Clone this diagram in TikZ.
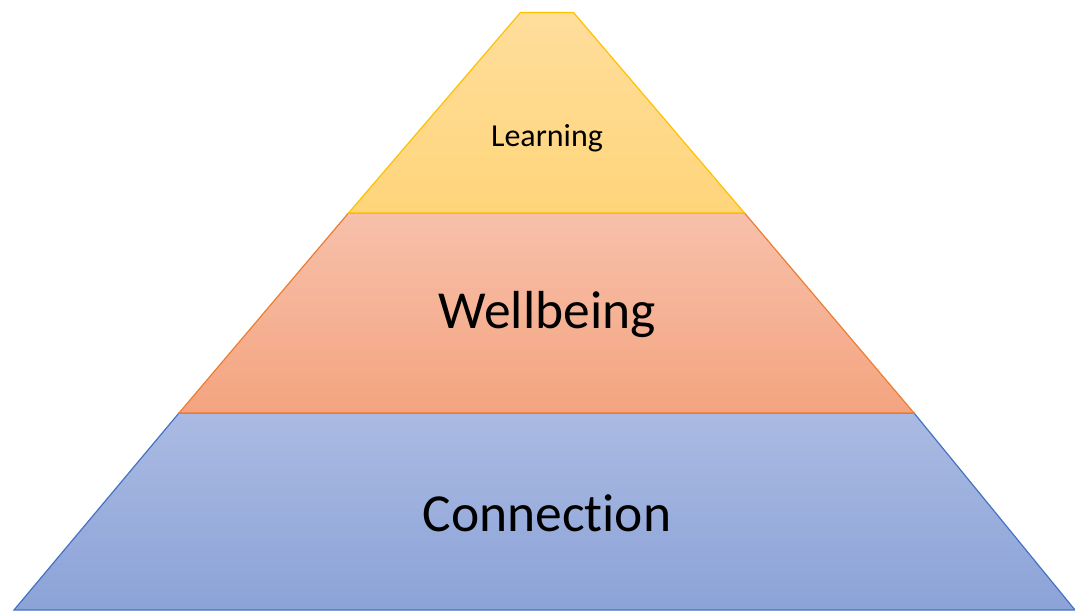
\documentclass[tikz,border=0pt]{standalone}
\usepackage{fontspec}
\setmainfont[RawFeature=-liga]{Carlito}
\definecolor{yelTop}{HTML}{FFDE9C}
\definecolor{yelBot}{HTML}{FFD57A}
\definecolor{yelLine}{HTML}{FFC000}
\definecolor{orTop}{HTML}{F7C0AB}
\definecolor{orBot}{HTML}{F4A47F}
\definecolor{orLine}{HTML}{ED7D31}
\definecolor{blTop}{HTML}{AABAE2}
\definecolor{blBot}{HTML}{8CA3D8}
\definecolor{blLine}{HTML}{4472C4}
\tikzset{
  layer/.style={line width=1.2pt, line join=miter},
  lbl/.style={text=black, inner sep=0pt, anchor=center}
}
\begin{document}
\begin{tikzpicture}[x=1pt,y=-1pt]
\useasboundingbox (0,0) rectangle (1075,611);
% bottom layer
\path[layer, draw=blLine, top color=blTop, bottom color=blBot]
  (179,413) -- (914,413) -- (1075,610) -- (14,610) -- cycle;
% middle layer
\path[layer, draw=orLine, top color=orTop, bottom color=orBot]
  (348.5,213) -- (744.5,213) -- (914,413) -- (179,413) -- cycle;
% top layer
\path[layer, draw=yelLine, top color=yelTop, bottom color=yelBot]
  (520.5,12.5) -- (573.5,12.5) -- (744.5,213) -- (348.5,213) -- cycle;
\node[lbl, font=\fontsize{32}{36}\selectfont] (learning) at (547,138) {Learning};
\node[lbl, font=\fontsize{53.5}{60}\selectfont] (wellbeing) at (547,315) {Wellbeing};
\node[lbl, font=\fontsize{53.5}{60}\selectfont] (connection) at (547,513) {Connection};
\end{tikzpicture}
\end{document}
